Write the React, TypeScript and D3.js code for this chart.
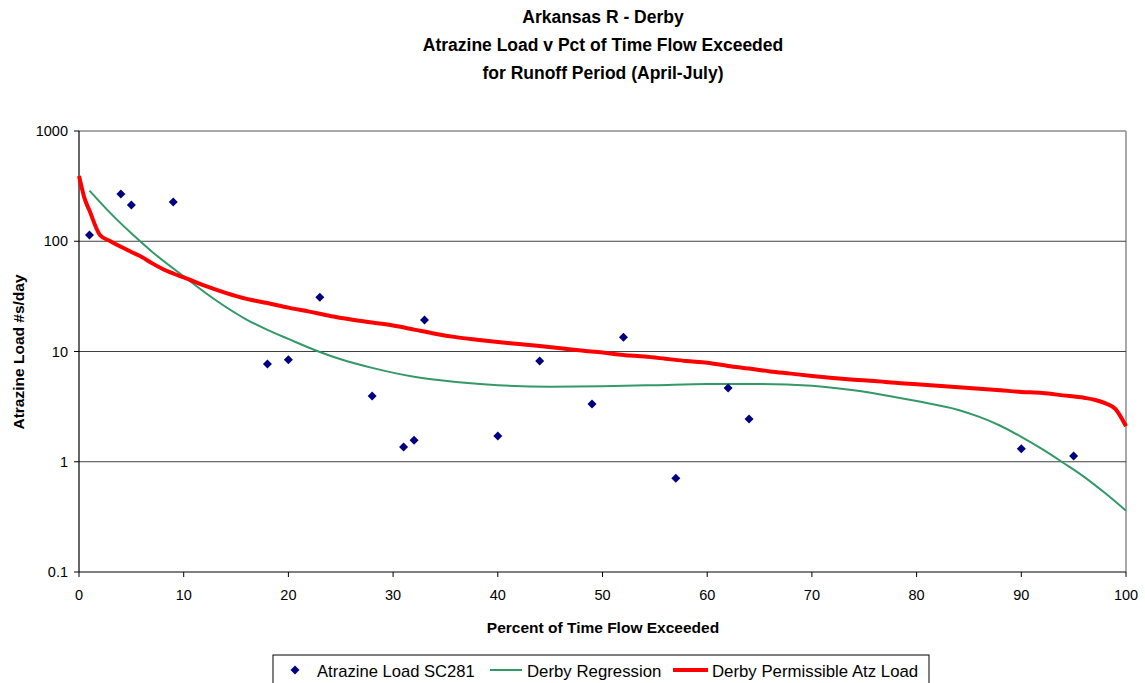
import { useMemo } from 'react';
import * as d3 from 'd3';

// Observed atrazine loads (pct of time flow exceeded, #s/day)
const obsPct = [1, 4, 5, 9, 18, 20, 23, 28, 31, 32, 33, 40, 44, 49, 52, 57, 62, 64, 90, 95];
const obsLoad = [114, 268, 213, 227, 7.7, 8.4, 31, 3.95, 1.36, 1.57, 19.3, 1.71, 8.2, 3.34, 13.5, 0.71, 4.67, 2.44, 1.31, 1.13];

// Regression curve
const regPct = [1, 3, 5, 7, 10, 13, 16, 18, 20, 23, 25, 28, 32, 36, 40, 45, 50, 55, 60, 65, 70, 74, 78, 80, 84, 86, 88, 90, 92, 94, 96, 98, 100];
const regLoad = [288, 180, 118, 80, 48, 29.5, 19.5, 15.7, 13, 9.9, 8.5, 7.1, 5.9, 5.3, 4.95, 4.8, 4.85, 4.95, 5.07, 5.07, 4.9, 4.45, 3.85, 3.55, 2.95, 2.55, 2.12, 1.68, 1.3, 0.98, 0.73, 0.52, 0.36];

// Permissible load curve
const permPct = [0, 0.25, 0.5, 1, 2, 3, 4, 5, 6, 7, 8, 9, 10, 12, 14, 16, 18, 20, 22, 24, 26, 28, 30, 32, 34, 36, 38, 40, 42, 44, 46, 48, 50, 52, 54, 56, 58, 60, 62, 64, 66, 68, 70, 72, 74, 76, 78, 80, 82, 84, 86, 88, 90, 92, 94, 96, 97, 98, 99, 100];
const permLoad = [390, 310, 250, 190, 114, 100, 89, 80, 72, 63, 56, 51, 47, 39.5, 34, 30, 27.5, 25, 23, 21, 19.5, 18.3, 17.2, 15.8, 14.5, 13.5, 12.8, 12.2, 11.7, 11.2, 10.7, 10.2, 9.8, 9.3, 9.0, 8.6, 8.2, 7.9, 7.4, 7.0, 6.6, 6.3, 6.0, 5.75, 5.55, 5.4, 5.2, 5.05, 4.9, 4.75, 4.6, 4.45, 4.3, 4.2, 4.0, 3.8, 3.65, 3.4, 3.0, 2.1];

const xTicks = [0, 10, 20, 30, 40, 50, 60, 70, 80, 90, 100];
const yTicks = [0.1, 1, 10, 100, 1000];
const titleLines = [
  'Arkansas R - Derby',
  'Atrazine Load v Pct of Time Flow Exceeded',
  'for Runoff Period (April-July)',
];

const W = 1145;
const H = 683;
const PLOT = { left: 79, right: 1126, top: 131, bottom: 572 };
const FONT = '"Liberation Sans", Arial, sans-serif';

export default function App() {
  const x = useMemo(() => d3.scaleLinear().domain([0, 100]).range([PLOT.left, PLOT.right]), []);
  const y = useMemo(() => d3.scaleLog().domain([0.1, 1000]).range([PLOT.bottom, PLOT.top]), []);

  const line = d3
    .line<[number, number]>()
    .x((d) => x(d[0]))
    .y((d) => y(d[1]))
    .curve(d3.curveMonotoneX);

  const regPath = line(regPct.map((p, i) => [p, regLoad[i]])) || '';
  const permPath = line(permPct.map((p, i) => [p, permLoad[i]])) || '';

  const diamond = (cx: number, cy: number, r = 4.5) =>
    `M${cx},${cy - r}L${cx + r},${cy}L${cx},${cy + r}L${cx - r},${cy}Z`;

  return (
    <svg
      width={W}
      height={H}
      style={{ position: 'absolute', left: 0, top: 0, background: '#fff' }}
      fontFamily={FONT}
    >
      {/* Title */}
      {titleLines.map((t, i) => (
        <text
          key={t}
          x={603}
          y={23 + i * 28}
          textAnchor="middle"
          fontSize={17.5}
          fontWeight="bold"
          fill="#000"
        >
          {t}
        </text>
      ))}

      {/* Plot border (top/right) */}
      <line x1={PLOT.left} x2={PLOT.right} y1={PLOT.top} y2={PLOT.top} stroke="#8c8c8c" strokeWidth={1.5} />
      <line x1={PLOT.right} x2={PLOT.right} y1={PLOT.top} y2={PLOT.bottom} stroke="#8c8c8c" strokeWidth={1.5} />

      {/* Gridlines */}
      {yTicks.slice(1, -1).map((t) => (
        <line key={t} x1={PLOT.left} x2={PLOT.right} y1={y(t)} y2={y(t)} stroke="#404040" strokeWidth={1} />
      ))}

      {/* Axes */}
      <line x1={PLOT.left} x2={PLOT.left} y1={PLOT.top} y2={PLOT.bottom} stroke="#000" strokeWidth={1.2} />
      <line x1={PLOT.left} x2={PLOT.right} y1={PLOT.bottom} y2={PLOT.bottom} stroke="#000" strokeWidth={1.2} />

      {xTicks.map((t) => (
        <g key={t}>
          <line x1={x(t)} x2={x(t)} y1={PLOT.bottom} y2={PLOT.bottom + 5} stroke="#000" />
          <text x={x(t)} y={PLOT.bottom + 28} textAnchor="middle" fontSize={14.5} fill="#000">
            {t}
          </text>
        </g>
      ))}
      {yTicks.map((t) => (
        <g key={t}>
          <line x1={PLOT.left - 5} x2={PLOT.left} y1={y(t)} y2={y(t)} stroke="#000" />
          <text x={PLOT.left - 11} y={y(t) + 5} textAnchor="end" fontSize={14.5} fill="#000">
            {t}
          </text>
        </g>
      ))}

      {/* Axis titles */}
      <text x={603} y={633} textAnchor="middle" fontSize={15.5} fontWeight="bold" fill="#000">
        Percent of Time Flow Exceeded
      </text>
      <text
        transform={`translate(24,352) rotate(-90)`}
        textAnchor="middle"
        fontSize={15.5}
        fontWeight="bold"
        fill="#000"
      >
        Atrazine Load #s/day
      </text>

      {/* Series */}
      <path d={regPath} fill="none" stroke="#339966" strokeWidth={2} />
      <path d={permPath} fill="none" stroke="#ff0000" strokeWidth={4} strokeLinejoin="round" />
      {obsPct.map((p, i) => (
        <path key={i} d={diamond(x(p), y(obsLoad[i]))} fill="#000080" />
      ))}

      {/* Legend */}
      <rect x={273} y={655} width={656} height={40} fill="#fff" stroke="#000" strokeWidth={1} />
      <path d={diamond(295, 670, 4.5)} fill="#000080" />
      <text x={317} y={677} fontSize={16.6} fill="#000">Atrazine Load SC281</text>
      <line x1={490} x2={522} y1={670} y2={670} stroke="#339966" strokeWidth={2} />
      <text x={527} y={677} fontSize={16.8} fill="#000">Derby Regression</text>
      <line x1={673} x2={708} y1={670} y2={670} stroke="#ff0000" strokeWidth={4} />
      <text x={712} y={677} fontSize={16.8} fill="#000">Derby Permissible Atz Load</text>
    </svg>
  );
}
